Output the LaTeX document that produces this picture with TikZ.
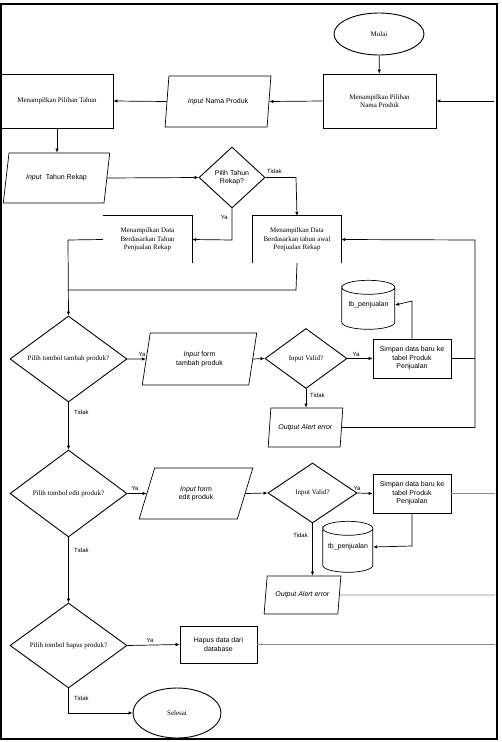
\documentclass[tikz,border=0pt]{standalone}
\usepackage{fontspec}
\setmainfont{Liberation Serif}
\setsansfont{Liberation Sans}
\usetikzlibrary{shapes.geometric,arrows.meta}
\begin{document}
\begin{tikzpicture}[x=1bp,y=-1bp,
 font=\fontsize{7}{8.5}\selectfont,
 ln/.style={line width=0.7bp},
 arr/.style={ln,-{Latex[length=4bp,width=3.5bp]}},
 faint/.style={line width=0.7bp,draw=black!45},
 box/.style={draw,line width=0.8bp,rectangle,inner sep=1bp,align=center},
 obox/.style={rectangle,inner sep=1bp,align=center},
 dia/.style={draw,diamond,line width=0.9bp,inner sep=0pt,align=center},
 para/.style={draw,trapezium,trapezium stretches=true,line width=0.7bp,inner sep=1bp,align=center,font=\sffamily\fontsize{7}{8.5}\selectfont},
 term/.style={draw,ellipse,line width=0.9bp,inner sep=0pt},
 lab/.style={inner sep=0pt,font=\sffamily\fontsize{6}{7}\selectfont},
 sbox/.style={box,font=\sffamily\fontsize{7}{8.5}\selectfont},
]
\useasboundingbox (0,0) rectangle (502,742);
\draw[line width=2bp] (1,4) rectangle (497,739);

% terminals
\node[term,minimum width=90bp,minimum height=42bp] (mulai) at (379,34) {Mulai};
\node[term,minimum width=88bp,minimum height=50bp] (selesai) at (177,713) {Selesai};

% top row
\node[box,minimum width=113bp,minimum height=54bp] (r1) at (379.5,101) {Menampilkan Pilihan\\Nama Produk};
\node[para,trapezium left angle=74,trapezium right angle=106,minimum width=106bp,minimum height=51bp] (p1) at (218,101.5) {\textit{Input} Nama Produk};
\node[box,minimum width=112bp,minimum height=54bp] (r2) at (57,101) {Menampilkan Pilihan Tahun};
\coordinate (in1) at (494,101);

% year selection
\node[para,trapezium left angle=66,trapezium right angle=114,minimum width=107bp,minimum height=50bp] (p2) at (56.5,178) {\textit{Input}\ \ Tahun Rekap};
\node[dia,font=\sffamily\fontsize{7}{8.5}\selectfont,minimum width=66bp,minimum height=61bp] (d1) at (232,177.5) {Pilih Tahun\\Rekap?};

\node[obox,minimum width=89bp,minimum height=47bp] (lb) at (147.5,239.5) {Menampilkan Data\\Berdasarkan Tahun\\Penjualan Rekap};
\draw[line width=0.8bp] (lb.north west) -- (lb.north east) -- (lb.south east);
\node[obox,minimum width=88bp,minimum height=47bp] (rb) at (297,239.5) {Menampilkan Data\\Berdasarkan tahun awal\\Penjualan Rekap};
\draw[line width=0.8bp] (rb.south west) -- (rb.north west) -- (rb.north east) -- (rb.south east);

% tambah section
\node[dia,shape aspect=1.36,minimum width=117bp,minimum height=86bp] (t1) at (68.5,359) {Pilih tombol tambah produk?};
\node[para,trapezium left angle=77,trapezium right angle=103,minimum width=115bp,minimum height=52bp] (p3) at (199.5,359) {\textit{Input} form\\tambah produk};
\node[dia,shape aspect=1.37,minimum width=82bp,minimum height=60bp] (v1) at (306,358.5) {Input Valid?};
\node[sbox,minimum width=78bp,minimum height=39bp] (s1) at (412,358.5) {Simpan data baru ke\\tabel Produk\\Penjualan};
\node[obox,minimum width=53bp,minimum height=49bp,font=\sffamily\fontsize{7}{8.5}\selectfont] (c1) at (368.5,305) {tb\_penjualan};
\draw[ln] (c1.north west) ++(0,7) arc[start angle=180,end angle=-180,x radius=26.5bp,y radius=7bp] -- ++(0,35) arc[start angle=180,end angle=360,x radius=26.5bp,y radius=7bp] -- ++(0,-35);
\node[para,trapezium left angle=72,trapezium right angle=108,minimum width=75bp,minimum height=39bp,inner sep=0pt] (o1) at (305.5,427.5) {\textit{Output Alert error}};

% edit section
\node[dia,shape aspect=1.35,minimum width=117bp,minimum height=87bp] (t2) at (68.5,493.5) {Pilih tombol edit produk?};
\node[para,trapezium left angle=68,trapezium right angle=112,minimum width=114bp,minimum height=51bp] (p5) at (196,493.5) {\textit{Input} form\\edit produk};
\node[dia,shape aspect=1.48,minimum width=89bp,minimum height=60bp] (v2) at (312.5,493) {Input Valid?};
\node[sbox,minimum width=78bp,minimum height=39bp] (s2) at (412,493.5) {Simpan data baru ke\\tabel Produk\\Penjualan};
\node[obox,minimum width=50bp,minimum height=51bp,font=\sffamily\fontsize{7}{8.5}\selectfont] (c2) at (348,547) {tb\_penjualan};
\draw[ln] (c2.north west) ++(0,7) arc[start angle=180,end angle=-180,x radius=25bp,y radius=7bp] -- ++(0,37) arc[start angle=180,end angle=360,x radius=25bp,y radius=7bp] -- ++(0,-37);
\node[para,trapezium left angle=70,trapezium right angle=110,minimum width=77bp,minimum height=38bp,inner sep=0pt] (o2) at (302.5,595) {\textit{Output Alert error}};

% hapus section
\node[dia,shape aspect=1.38,minimum width=117bp,minimum height=85bp] (t3) at (68.5,645.5) {Pilih tombol hapus produk?};
\node[sbox,minimum width=77bp,minimum height=37bp] (h) at (218.5,644.5) {Hapus data dari\\database};

% helper coordinates
\coordinate (j1) at (296,177.5);
\coordinate (j2) at (232,240);
\coordinate (j3) at (68,240);
\coordinate (j4) at (296,290);
\coordinate (j5) at (68,290);
\coordinate (j6) at (412,301);
\coordinate (j7) at (475,358.5);
\coordinate (j8) at (475,427.5);
\coordinate (j9) at (475,240);
\coordinate (j10) at (412,546);
\coordinate (e1) at (495,493.5);
\coordinate (e2) at (495,595);
\coordinate (e3) at (495,644.5);
\coordinate (j11) at (68.5,713);

% connectors
\draw[arr] (mulai) -- (r1);
\draw[arr] (in1) -- (r1.east);
\draw[arr] (r1.west) -- (p1.east);
\draw[arr] (p1.west) -- (r2.east);
\draw[arr] (r2.south) -- (r2.south |- p2.north);
\draw[arr] (p2.east) -- (d1.west);
\draw[arr] (d1.east) -- (j1) -- (rb.north);
\draw[arr] (d1.south) -- (j2) -- (lb.east);
\draw[arr] (lb.west) -- (j3) -- (t1.north);
\draw[ln] (rb.south) -- (j4) -- (j5);

\draw[arr] (t1.east) -- (p3.west);
\draw[arr] (p3.east) -- (v1.west);
\draw[arr] (v1.east) -- (s1.west);
\draw[arr] (s1.north) -- (j6) -- (c1.east);
\draw[ln] (s1.east) -- (j7);
\draw[arr] (o1.east) -- (j8) -- (j9) -- (rb.east);
\draw[arr] (v1.south) -- (v1.south |- o1.north);
\draw[arr] (t1.south) -- (t2.north);

\draw[arr] (t2.east) -- (p5.west);
\draw[arr] (p5.east) -- (v2.west);
\draw[arr] (v2.east) -- (s2.west);
\draw[faint] (s2.east) -- (e1);
\draw[arr] (s2.south) -- (j10) -- (c2.east);
\draw[arr] (v2.south) -- (v2.south |- o2.north);
\draw[faint] (o2.east) -- (e2);
\draw[arr] (t2.south) -- (t3.north);

\draw[arr] (t3.east) -- (h.west);
\draw[faint] (h.east) -- (e3);
\draw[arr] (t3.south) -- (j11) -- (selesai.west);

% labels
\node[lab,anchor=west] (l1) at (267,171) {Tidak};
\node[lab,anchor=east] (l2) at (228,217) {Ya};
\node[lab] (l3) at (142,354) {Ya};
\node[lab] (l4) at (356,354) {Ya};
\node[lab,anchor=west] (l5) at (310,395) {Tidak};
\node[lab,anchor=west] (l6) at (74,412) {Tidak};
\node[lab] (l7) at (135,488) {Ya};
\node[lab] (l8) at (357,488) {Ya};
\node[lab,anchor=east] (l9) at (308,535) {Tidak};
\node[lab,anchor=west] (l10) at (74,550) {Tidak};
\node[lab] (l11) at (150,640) {Ya};
\node[lab,anchor=west] (l12) at (74,698) {Tidak};
\end{tikzpicture}
\end{document}
